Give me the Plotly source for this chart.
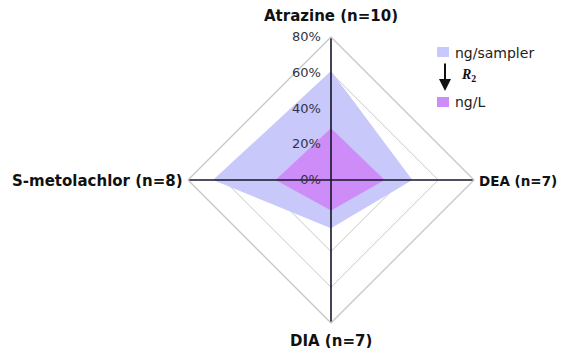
import plotly.graph_objects as go

categories = ["Atrazine (n=10)", "DEA (n=7)", "DIA (n=7)", "S-metolachlor (n=8)"]
ng_sampler = [61, 45.5, 27, 66]
ng_L = [29, 30, 17, 31]
radial_ticks = [0, 20, 40, 60, 80]
radial_labels = ["0%", "20%", "40%", "60%", "80%"]

# page body has an 8px margin; figure is sized so that the screenshot matches
OFF = 8
W, H = 568 - OFF, 354 - OFF
cx, cy, R = 331, 180, 143
FONT = "DejaVu Sans, Verdana, sans-serif"
C_SAMPLER = "rgb(200,200,250)"
C_L = "rgb(206,140,248)"


def px(x):
    return (x - OFF) / W


def py(y):
    return (H - (y - OFF)) / H


fig = go.Figure()


def closed(v):
    return v + [v[0]]


fig.add_trace(go.Scatterpolar(
    r=closed(ng_sampler), theta=closed(categories), fill="toself", mode="lines",
    line=dict(width=0, color=C_SAMPLER), fillcolor=C_SAMPLER,
    name="ng/sampler", showlegend=False, hoverinfo="skip"))
fig.add_trace(go.Scatterpolar(
    r=closed(ng_L), theta=closed(categories), fill="toself", mode="lines",
    line=dict(width=0, color=C_L), fillcolor=C_L,
    name="ng/L", showlegend=False, hoverinfo="skip"))

# axis cross (spokes drawn above fills)
rmax = radial_ticks[-1]
fig.add_trace(go.Scatterpolar(
    r=[rmax, 0, rmax, None, rmax, 0, rmax],
    theta=[categories[0], categories[0], categories[2], None, categories[1], categories[1], categories[3]],
    mode="lines", line=dict(color="#15152a", width=1.6), showlegend=False, hoverinfo="skip"))

fig.update_layout(
    width=W, height=H, margin=dict(l=0, r=0, t=0, b=0),
    paper_bgcolor="white", plot_bgcolor="white",
    font=dict(family=FONT, color="#111"),
    polar=dict(
        domain=dict(x=[px(cx - R), px(cx + R)], y=[py(cy + R), py(cy - R)]),
        gridshape="linear", bgcolor="white",
        radialaxis=dict(range=[0, rmax], tickvals=radial_ticks, ticktext=radial_labels,
                        angle=90, tickangle=90, side="counterclockwise", showline=False,
                        ticks="outside", ticklen=5, tickcolor="rgba(0,0,0,0)",
                        gridcolor="#c8c8c8", gridwidth=1.4,
                        tickfont=dict(size=13, color="#333344")),
        angularaxis=dict(rotation=90, direction="clockwise", showgrid=False,
                         linecolor="#c8c8c8", linewidth=1.4, ticks="", showticklabels=False),
    ),
)

# category labels
label_pos = [  # (x px, y px, xanchor, size) in screenshot pixels
    (331, 16, "center", 15),
    (478, 181, "left", 13.5),
    (331, 341, "center", 15),
    (184, 181, "right", 15),
]
for name, (x, y, xa, fs) in zip(categories, label_pos):
    fig.add_annotation(xref="paper", yref="paper", x=px(x), y=py(y), text="<b>" + name + "</b>",
                       showarrow=False, xanchor=xa, yanchor="middle", height=14, borderpad=0,
                       font=dict(size=fs, family=FONT, color="#111", weight="bold"))

# custom legend
lx = 437
fig.add_shape(type="rect", xref="paper", yref="paper",
              x0=px(lx), x1=px(lx + 12), y0=py(57), y1=py(47),
              fillcolor=C_SAMPLER, line=dict(width=0))
fig.add_shape(type="rect", xref="paper", yref="paper",
              x0=px(lx), x1=px(lx + 12), y0=py(107), y1=py(97),
              fillcolor=C_L, line=dict(width=0))
fig.add_annotation(xref="paper", yref="paper", x=px(453), y=py(53), text="ng/sampler",
                   showarrow=False, xanchor="left", yanchor="middle", font=dict(size=14, color="#222"))
fig.add_annotation(xref="paper", yref="paper", x=px(453), y=py(102), text="ng/L",
                   showarrow=False, xanchor="left", yanchor="middle", font=dict(size=14, color="#222"))
fig.add_annotation(xref="paper", yref="paper", x=px(445), y=py(91),
                   axref="pixel", ayref="pixel", ax=0, ay=-29, text="", showarrow=True, arrowhead=2,
                   arrowsize=1.2, arrowwidth=2, arrowcolor="#111")
fig.add_annotation(xref="paper", yref="paper", x=px(459), y=py(75),
                   text="<b><i>R</i></b><sub><b>2</b></sub>", showarrow=False,
                   xanchor="left", yanchor="middle",
                   font=dict(size=14, family="Liberation Serif, Times New Roman", color="#111"))

fig.write_html("out.html")
